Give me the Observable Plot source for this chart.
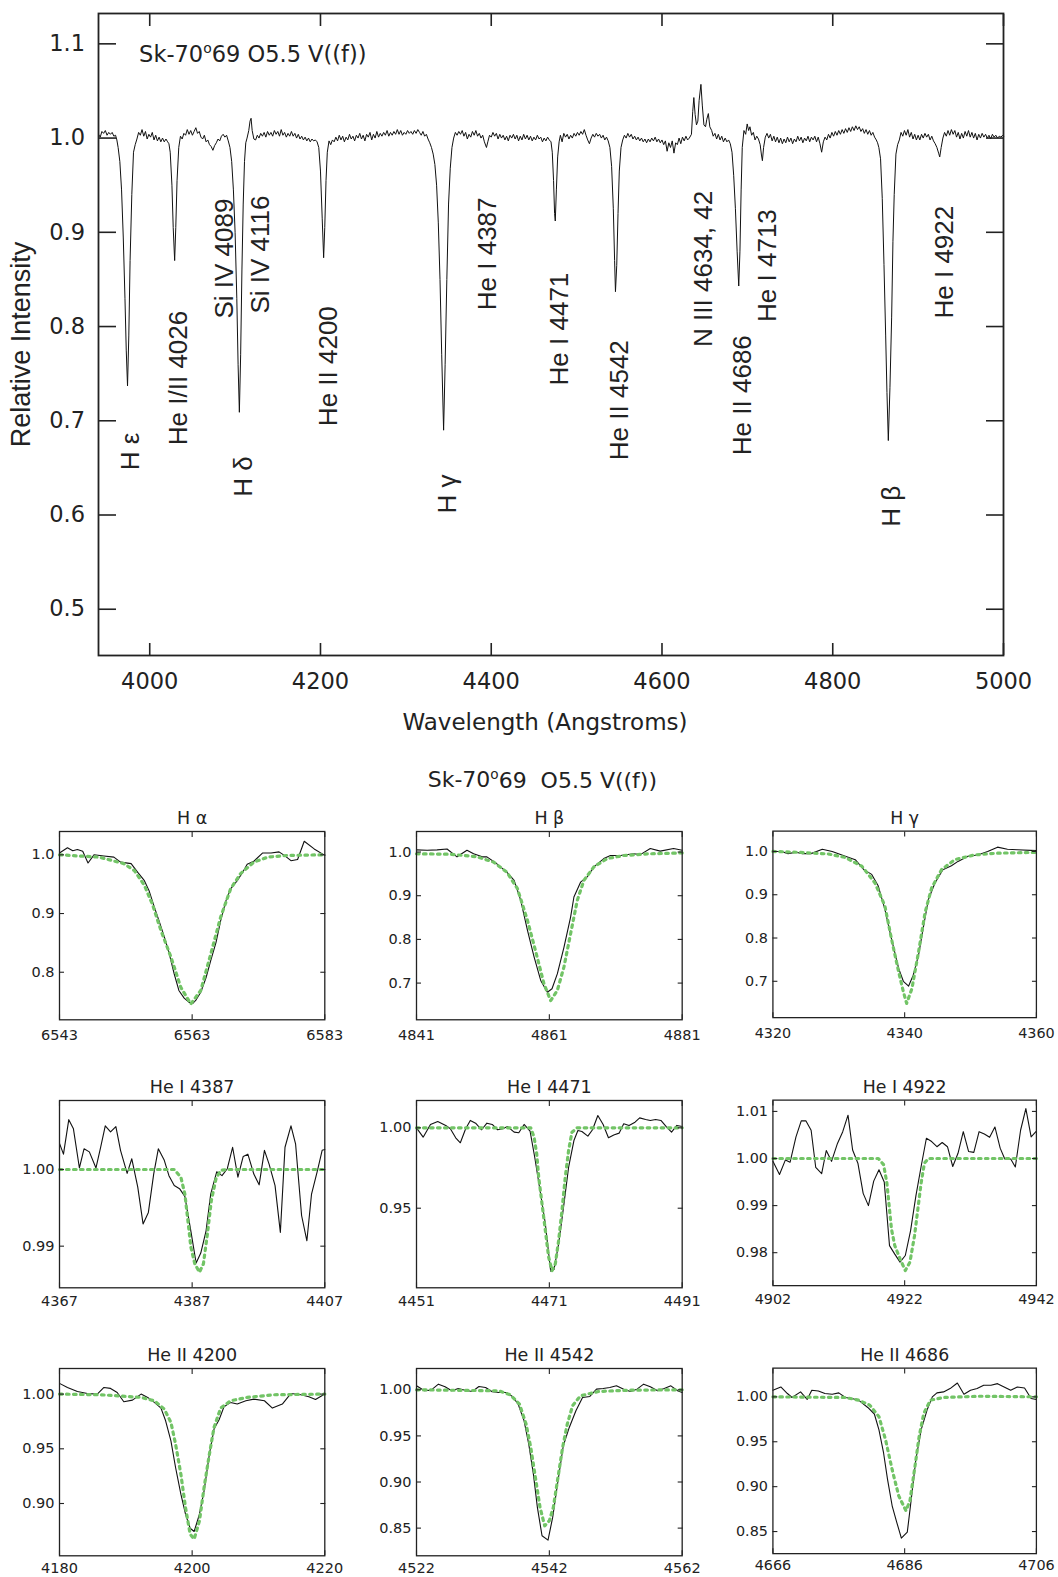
<!DOCTYPE html>
<html><head><meta charset="utf-8">
<script src="https://cdn.jsdelivr.net/npm/d3@7"></script>
<script src="https://cdn.jsdelivr.net/npm/@observablehq/plot@0.6"></script>
<style>
body{margin:0;background:#fff;}
#root{position:relative;width:1058px;height:1577px;overflow:hidden;background:#fff;}
.pos{position:absolute;}
</style></head><body><div id="root"></div>
<script>
// ---------------- DATA ----------------
const mainTitle = "Sk-70°69 O5.5 V((f))";
const gridTitle = "Sk-70°69\u00a0 O5.5 V((f))";
const mainXTicks = [4000, 4200, 4400, 4600, 4800, 5000];
const mainYTicks = [0.5, 0.6, 0.7, 0.8, 0.9, 1.0, 1.1];

// [wavelength (A), relative intensity]
const spectrum = [
[3940,1.004],[3942,1.001],[3944,1.007],[3946,1.005],[3948,1.008],[3950,1.003],[3952,1.006],[3954,1.004],[3956,1.006],[3958,1.002],[3960,1.003],
[3961.5,0.998],[3963,0.990],[3965,0.975],[3967,0.945],[3969,0.895],[3971,0.830],[3972.5,0.775],[3974,0.737],[3975.5,0.790],[3977,0.870],[3979,0.940],[3981,0.985],[3983,0.993],[3985,0.999],
[3987,1.006],[3989,1.003],[3991,1.009],[3993,1.002],[3995,1.007],[3997,0.999],[3999,1.004],[4001,1.001],[4003,1.006],[4005,0.998],[4007,1.003],[4009,0.997],[4011,1.001],[4013,0.996],[4015,1.000],[4017,0.996],[4019,0.999],[4021,0.996],[4022.5,0.994],
[4024,0.985],[4026,0.950],[4027.5,0.905],[4029.2,0.870],[4030.5,0.905],[4032,0.955],[4034,0.990],[4036,1.002],
[4038,0.999],[4040,1.005],[4042,1.003],[4044,1.009],[4046,1.004],[4048,1.008],[4050,1.003],[4052,1.007],[4054,1.011],[4056,1.005],[4058,1.007],[4060,1.001],[4062,0.999],[4064,1.003],[4066,0.996],[4068,0.998],[4070,0.993],[4072,0.991],[4074,0.987],[4076,0.992],[4078,0.995],[4080,0.999],[4082,0.997],[4084,1.002],[4086,1.004],[4088,1.001],[4090,1.003],[4092,0.997],
[4094,0.990],[4096,0.975],[4098,0.945],[4100,0.900],[4102,0.830],[4103.5,0.760],[4105,0.709],[4106.5,0.770],[4108,0.860],[4109.5,0.930],[4111,0.975],[4112.5,0.995],
[4114,1.000],[4116,1.008],[4117.5,1.018],[4118.7,1.021],[4120,1.008],[4122,0.999],[4124,0.998],
[4126,1.003],[4128,1.000],[4130,1.005],[4132,1.002],[4134,1.006],[4136,1.001],[4138,1.007],[4140,1.003],[4142,1.006],[4144,1.002],[4146,1.008],[4148,1.004],[4150,1.007],[4152,1.002],[4154,1.009],[4156,1.003],[4158,1.006],[4160,1.001],[4162,1.005],[4164,1.002],[4166,1.007],[4168,1.002],[4170,1.005],[4172,1.000],[4174,1.004],[4176,0.999],[4178,1.002],[4180,0.998],[4182,1.001],[4184,0.997],[4186,1.000],[4188,0.996],[4190,0.999],[4192,0.997],[4194,0.998],
[4196,0.996],[4198,0.990],[4200,0.965],[4202,0.915],[4203.7,0.873],[4205,0.905],[4206.5,0.955],[4208,0.985],[4210,0.997],
[4212,0.993],[4214,0.998],[4216,0.996],[4218,1.001],[4220,0.997],[4222,1.003],[4224,0.998],[4226,1.002],[4228,0.996],[4230,1.001],[4232,0.998],[4234,1.004],[4236,0.999],[4238,1.002],[4240,0.997],[4242,1.003],[4244,1.000],[4246,1.005],[4248,0.999],[4250,1.003],[4252,0.997],[4254,1.004],[4256,1.001],[4258,1.006],[4260,0.998],[4262,1.004],[4264,1.000],[4266,1.007],[4268,1.001],[4270,1.005],[4272,1.002],[4274,1.006],[4276,1.003],[4278,1.008],[4280,1.002],[4282,1.006],[4284,1.003],[4286,1.007],[4288,1.004],[4290,1.009],[4292,1.004],[4294,1.008],[4296,1.003],[4298,1.006],[4300,1.004],[4302,1.008],[4304,1.005],[4306,1.007],[4308,1.004],[4310,1.008],[4312,1.005],[4314,1.009],[4316,1.006],[4318,1.003],[4320,1.007],[4322,1.002],[4324,1.004],[4326,0.999],
[4328,0.995],[4330,0.990],[4332,0.983],[4334,0.972],[4336,0.950],[4338,0.910],[4340,0.850],[4342,0.770],[4344.2,0.690],[4346,0.760],[4348,0.850],[4350,0.930],[4352,0.968],[4354,0.990],[4356,1.000],
[4358,1.006],[4360,1.003],[4362,1.007],[4364,1.004],[4366,1.008],[4368,1.002],[4370,1.006],[4372,0.999],[4374,1.004],[4376,1.001],[4378,1.007],[4380,1.003],[4382,1.008],[4384,1.002],[4386,1.005],[4388,1.000],[4390,1.003],[4392,0.996],[4394.4,0.990],[4396,0.996],[4398,1.003],[4400,1.001],[4402,1.006],[4404,1.002],[4406,1.005],[4408,0.999],[4410,1.004],[4412,1.000],[4414,1.003],[4416,0.998],[4418,1.002],[4420,0.997],[4422,1.003],[4424,1.000],[4426,1.004],[4428,0.999],[4430,1.003],[4432,0.997],[4434,1.002],[4436,0.998],[4438,1.004],[4440,0.999],[4442,1.003],[4444,0.998],[4446,1.002],[4448,0.997],[4450,1.001],[4452,0.998],[4454,1.003],[4456,0.999],[4458,1.001],[4460,0.996],[4462,1.000],[4464,0.997],[4466,1.001],[4468,0.998],
[4470,0.996],[4471.5,0.985],[4473,0.955],[4474.2,0.920],[4475,0.912],[4476.3,0.945],[4477.8,0.980],[4479.5,0.996],
[4481,1.003],[4483,0.996],[4485,1.005],[4487,1.001],[4489,1.004],[4491,0.999],[4493,1.003],[4495,1.000],[4497,1.005],[4499,1.002],[4501,1.006],[4503,1.003],[4505,1.007],[4507,1.004],[4509,1.009],[4511,1.003],[4513,0.998],[4515,0.994],[4517,1.000],[4519,1.004],[4521,1.001],[4523,1.005],[4525,1.002],[4527,1.004],[4529,1.000],[4531,1.003],[4533,0.998],[4535,1.001],[4537,0.997],
[4539,0.990],[4541,0.970],[4543,0.925],[4544.5,0.870],[4545.5,0.837],[4547,0.865],[4548.5,0.920],[4550,0.965],[4552,0.990],[4554,0.998],
[4556,1.003],[4558,1.000],[4560,1.005],[4562,1.001],[4564,1.004],[4566,0.999],[4568,1.002],[4570,0.998],[4572,1.001],[4574,0.997],[4576,1.000],[4578,0.996],[4580,0.999],[4582,0.995],[4584,0.999],[4586,0.996],[4588,1.000],[4590,0.997],[4592,1.001],[4594,0.996],[4596,0.999],[4598,0.995],[4600,0.998],[4602,0.993],[4604,0.997],[4606,0.986],[4608,0.995],[4610,0.990],[4612,0.997],[4614,0.984],[4616,0.995],[4618,0.993],[4620,1.000],[4622,0.994],[4624,1.001],[4626,0.997],[4628,1.002],[4630,0.998],
[4632,1.000],[4634.5,1.004],[4636,1.028],[4637.3,1.043],[4638.8,1.025],[4640.4,1.014],[4642,1.018],[4643.5,1.040],[4645.6,1.057],[4647.2,1.035],[4649.1,1.014],[4651,1.012],[4652.5,1.020],[4654.3,1.026],[4656,1.012],[4658.2,1.008],[4660,1.002],
[4662,1.005],[4664,0.999],[4666,1.004],[4668,0.998],[4670,1.002],[4672,0.996],[4674,1.000],[4676,0.996],[4678,0.998],[4680,0.994],
[4682,0.985],[4684,0.960],[4686,0.925],[4688,0.880],[4689.9,0.843],[4691.3,0.880],[4692.7,0.945],[4694,0.990],[4696,1.008],[4698,1.004],[4699.8,1.015],[4701.5,1.008],[4703,1.012],[4705,1.003],[4707,1.006],[4709,0.998],[4711,1.002],[4713,0.999],
[4715,0.993],[4716.5,0.982],[4717.6,0.976],[4719,0.990],[4721,1.001],
[4723,1.005],[4725,1.000],[4727,1.004],[4729,0.997],[4731,1.002],[4733,0.996],[4735,1.001],[4737,0.995],[4739,1.000],[4741,0.994],[4743,0.999],[4745,0.995],[4747,1.001],[4749,0.996],[4751,1.000],[4753,0.994],[4755,0.999],[4757,0.996],[4759,1.002],[4761,0.997],[4763,1.001],[4765,0.995],[4767,1.000],[4769,0.997],[4771,1.002],[4773,0.996],[4775,1.001],[4777,0.998],[4779,1.002],[4781,0.996],[4783,1.001],[4785,0.994],[4787,0.985],[4789,0.996],[4791,1.001],[4793,0.998],[4795,1.004],[4797,1.000],[4799,1.006],[4801,1.002],[4803,1.007],[4805,1.003],[4807,1.008],[4809,1.004],[4811,1.009],[4813,1.005],[4815,1.010],[4817,1.006],[4819,1.011],[4821,1.007],[4823,1.012],[4825,1.008],[4827,1.013],[4829,1.009],[4831,1.012],[4833,1.007],[4835,1.010],[4837,1.005],[4839,1.009],[4841,1.004],[4843,1.008],[4845,1.003],[4847,1.006],[4849,1.001],
[4851,0.998],[4852.5,0.995],[4854,0.990],[4856,0.978],[4858,0.936],[4860,0.866],[4862,0.790],[4863.5,0.730],[4865.1,0.679],[4867,0.735],[4869,0.810],[4870.5,0.890],[4872,0.940],[4874,0.983],[4876,0.993],[4878,0.998],
[4880,1.006],[4882,1.002],[4884,1.008],[4886,1.003],[4888,1.009],[4890,1.001],[4892,1.006],[4894,0.999],[4896,1.004],[4898,0.998],[4900,1.003],[4902,0.998],[4904,1.004],[4906,1.000],[4908,1.005],[4910,1.001],[4912,1.004],[4914,0.998],[4916,1.002],[4918,0.997],[4920,0.994],[4922,0.990],[4924,0.984],[4925.3,0.980],[4927,0.990],[4929,1.000],[4931,1.006],[4933,1.002],[4935,1.008],[4937,1.003],[4939,1.009],[4941,1.004],[4943,1.008],[4945,1.001],[4947,1.006],[4949,0.999],[4951,1.005],[4953,1.000],[4955,1.007],[4957,1.002],[4959,1.008],[4961,1.001],[4963,1.006],[4965,1.000],[4967,1.005],[4969,0.998],[4971,1.004],[4973,1.000],[4975,1.005],[4977,1.001],[4979,1.004],[4981,1.000],[4983,1.003],[4985,0.999],[4987,1.004],[4989,1.001],[4991,1.003],[4993,1.000],[4995,1.002],[4997,1.001],[4999,1.003],[5000,1.002]
];

const lineNames  = ["H ε","He I/II 4026","Si IV 4089","Si IV 4116","H δ","He II 4200","H γ","He I 4387","He I 4471","He II 4542","N III 4634, 42","He II 4686","He I 4713","He I 4922","H β"];
const lineLabelX = [3978, 4033.8, 4087.8, 4130.3, 4110.6, 4209.5, 4349.1, 4395.4, 4480.5, 4550.4, 4648.3, 4694.8, 4723.5, 4931.2, 4868.9];
const lineLabelY = [0.6476, 0.6741, 0.8085, 0.8138, 0.6193, 0.6943, 0.6017, 0.8173, 0.7375, 0.6582, 0.7784, 0.6635, 0.8049, 0.8085, 0.5875];

// ---- line-profile panels: observed [A, flux] and model [A, flux] ----
const haObs = [[6543,1.003],[6544.2,1.012],[6545,1.007],[6545.7,1.009],[6546.5,1.006],[6547.3,0.986],[6548.2,1.0],[6549.7,0.998],[6551.2,0.996],[6552.2,0.9875],[6553.8,0.985],[6554.8,0.970],[6555.8,0.956],[6556.5,0.939],[6557.3,0.911],[6558,0.888],[6558.8,0.860],[6559.5,0.834],[6560.3,0.797],[6561,0.769],[6561.8,0.756],[6562.5,0.749],[6563.1,0.747],[6563.6,0.753],[6564.3,0.766],[6565.1,0.791],[6565.8,0.820],[6566.6,0.851],[6567.3,0.888],[6568.1,0.922],[6568.8,0.942],[6569.8,0.956],[6570.6,0.970],[6571.3,0.984],[6572.3,0.989],[6573.6,1.003],[6574.9,1.003],[6576.1,1.005],[6576.9,0.999],[6577.9,0.990],[6578.9,0.992],[6579.9,1.023],[6581.4,1.010],[6583,0.999]];
const haModel = [[6543,1.0],[6546,0.998],[6549,0.996],[6552.7,0.985],[6554.3,0.973],[6555.8,0.948],[6557,0.916],[6558.3,0.871],[6559.8,0.826],[6561.3,0.774],[6562.8,0.746],[6564.3,0.769],[6565.8,0.831],[6567.3,0.894],[6568.8,0.942],[6570.3,0.968],[6572.3,0.9875],[6574.4,0.996],[6577.4,0.999],[6583,1.0]];

const hbObs = [[4841,1.005],[4842.6,1.004],[4844.1,1.005],[4845.6,1.007],[4847.1,0.989],[4848.6,1.004],[4849.6,0.996],[4850.9,0.989],[4851.6,0.989],[4853.1,0.973],[4854.6,0.954],[4855.7,0.935],[4856.7,0.889],[4857.7,0.821],[4858.7,0.760],[4859.7,0.706],[4860.7,0.679],[4861.4,0.687],[4862.2,0.721],[4863.2,0.782],[4864.2,0.851],[4864.7,0.897],[4865.7,0.931],[4866.7,0.943],[4867.7,0.966],[4869.2,0.985],[4870.2,0.992],[4871.7,0.992],[4873.7,0.996],[4874.7,0.994],[4876.2,1.008],[4877.7,1.002],[4879.7,1.008],[4881,1.004]];
const hbModel = [[4841,0.996],[4846.1,0.995],[4850.1,0.989],[4852.6,0.977],[4854.6,0.954],[4856.2,0.916],[4857.7,0.844],[4858.9,0.775],[4860.2,0.698],[4861.2,0.660],[4862.2,0.683],[4863.2,0.737],[4864.2,0.813],[4865.2,0.889],[4866.2,0.935],[4867.7,0.966],[4869.7,0.985],[4872.2,0.992],[4876.2,0.996],[4881,0.998]];

const hgObs = [[4320,1.0],[4321.3,1.0],[4322.3,0.995],[4323.5,0.998],[4324.5,0.995],[4325.8,0.995],[4327.5,1.005],[4329,1.0],[4331,0.989],[4332.5,0.981],[4333.8,0.958],[4335,0.947],[4336,0.920],[4337,0.866],[4338,0.798],[4339.1,0.729],[4339.8,0.700],[4340.6,0.689],[4341.3,0.714],[4342.1,0.760],[4342.8,0.821],[4343.6,0.889],[4344.6,0.927],[4345.8,0.958],[4347.1,0.967],[4348.1,0.977],[4349.6,0.989],[4351.1,0.992],[4352.6,1.0],[4354.1,1.010],[4355.6,1.005],[4357.1,1.004],[4360,1.002]];
const hgModel = [[4320,1.0],[4324,0.998],[4328.5,0.994],[4331,0.986],[4333.5,0.966],[4335.5,0.927],[4337,0.874],[4338,0.798],[4339.1,0.721],[4339.8,0.676],[4340.3,0.649],[4341.1,0.683],[4342.1,0.767],[4343.1,0.859],[4344.1,0.916],[4345.6,0.958],[4347.6,0.981],[4350.6,0.992],[4354.1,0.996],[4360,0.998]];

const he4387Obs = [[4367,1.0034],[4367.6,1.002],[4368.4,1.0065],[4369.1,1.0053],[4370,1.0002],[4370.7,1.0027],[4371.5,1.0023],[4372.5,1.0002],[4373.2,1.0029],[4373.9,1.0057],[4374.7,1.0049],[4375.5,1.0056],[4376.2,1.0025],[4377.2,0.9995],[4377.9,1.0014],[4378.8,0.9977],[4379.6,0.9929],[4380.4,0.9944],[4381.2,0.9994],[4381.9,1.0027],[4382.8,1.0012],[4383.5,0.9992],[4384.3,0.9979],[4385.1,0.9975],[4385.9,0.9965],[4386.8,0.9920],[4387.6,0.9878],[4388.3,0.9891],[4389.1,0.9920],[4389.8,0.9968],[4390.7,0.9997],[4391.5,0.9992],[4392.3,1.0001],[4393.1,1.0029],[4393.9,0.999],[4394.7,1.0017],[4395.4,1.002],[4396.3,0.9994],[4397.1,0.998],[4397.9,1.0025],[4398.6,1.0007],[4399.5,0.9979],[4400.3,0.9918],[4401,1.0029],[4401.9,1.0057],[4402.6,1.0033],[4403.5,0.994],[4404.3,0.9907],[4405,0.9968],[4405.9,0.9999],[4406.6,1.0025],[4407,1.0026]];
const he4387Model = [[4367,1.0],[4384.3,1.0],[4385.3,0.999],[4385.9,0.9968],[4386.3,0.9938],[4386.8,0.9899],[4387.4,0.9877],[4388.1,0.9866],[4388.7,0.9877],[4389.3,0.9916],[4389.9,0.996],[4390.6,0.9988],[4391.3,0.9999],[4392.3,1.0],[4407,1.0]];

const he4471Obs = [[4451,1.0],[4452,0.9942],[4453.1,1.0021],[4454.2,1.0039],[4455.4,1.0015],[4456.1,0.9994],[4456.9,0.9938],[4457.6,0.9907],[4458.4,0.9994],[4459.1,1.0046],[4459.9,1.0029],[4460.8,0.9988],[4461.6,1.0029],[4462.4,1.0021],[4463.2,0.9988],[4464,0.9994],[4464.7,1.0008],[4465.7,0.9973],[4466.4,0.9969],[4467.2,1.0021],[4468.1,0.9979],[4468.8,0.9817],[4469.6,0.961],[4470.4,0.9402],[4471.2,0.9108],[4471.7,0.9118],[4472.4,0.9278],[4473.2,0.9527],[4473.9,0.9755],[4474.7,0.9921],[4475.3,0.9983],[4475.9,0.9977],[4476.8,0.9948],[4477.5,0.9988],[4478.3,1.0077],[4479.1,1.0021],[4479.9,0.9938],[4480.7,0.9956],[4481.5,0.9967],[4482.2,1.0025],[4483,1.0015],[4483.9,1.0035],[4484.6,1.0062],[4485.5,1.0052],[4486.2,1.0046],[4487,1.0052],[4487.8,1.0046],[4488.6,1.0008],[4489.4,0.9973],[4490.2,1.0015],[4491,1.0008]];
const he4471Model = [[4451,1.0],[4468.2,1.0],[4468.7,0.9942],[4469.1,0.9838],[4469.4,0.9693],[4469.9,0.9527],[4470.4,0.9361],[4470.9,0.9195],[4471.4,0.9112],[4471.9,0.9154],[4472.4,0.9299],[4472.9,0.9485],[4473.4,0.9693],[4473.9,0.9859],[4474.4,0.9973],[4475.2,1.0],[4491,1.0]];

const he4922Obs = [[4902,0.9994],[4903,0.9966],[4903.9,0.9997],[4904.6,0.9992],[4905.5,1.0046],[4906.3,1.008],[4907,1.008],[4907.8,1.006],[4908.5,0.9981],[4909.4,0.9968],[4910.1,1.0017],[4910.9,0.9994],[4911.8,1.0032],[4912.6,1.0057],[4913.4,1.0092],[4914.1,1.0018],[4914.9,0.999],[4915.7,0.9926],[4916.5,0.99],[4917.3,0.9952],[4918.1,0.9976],[4918.9,0.995],[4919.7,0.9815],[4920.5,0.9797],[4921.3,0.978],[4922.1,0.9794],[4922.9,0.9847],[4923.7,0.992],[4924.5,0.9983],[4925.3,1.0043],[4926.1,1.0036],[4926.9,1.0025],[4927.7,1.0034],[4928.5,1.0025],[4929.3,0.9983],[4930.1,1.0011],[4930.9,1.0057],[4931.7,1.0015],[4932.5,1.0013],[4933.3,1.0057],[4934.1,1.0052],[4934.9,1.0045],[4935.7,1.0067],[4936.5,1.0022],[4937.2,0.9999],[4938.1,0.9999],[4938.8,0.9982],[4939.6,1.006],[4940.4,1.0106],[4941.2,1.0046],[4942,1.0058]];
const he4922Model = [[4902,1.0],[4918,1.0],[4918.8,0.9987],[4919.3,0.9948],[4919.6,0.9906],[4920,0.985],[4920.5,0.9815],[4921.3,0.9787],[4922.1,0.9762],[4922.8,0.978],[4923.5,0.9836],[4924,0.9892],[4924.5,0.9948],[4925,0.999],[4925.6,1.0],[4942,1.0]];

const heII4200Obs = [[4180,1.0098],[4181.2,1.0061],[4182.7,1.0024],[4184.2,1.0006],[4185.7,1.0],[4186.7,1.0061],[4187.7,1.0052],[4188.7,1.0015],[4189.7,0.993],[4191,0.9945],[4192.3,1.0],[4193.3,0.997],[4194.3,0.9924],[4195.3,0.9872],[4196,0.9756],[4196.8,0.9573],[4197.5,0.9329],[4198.3,0.9085],[4199,0.8902],[4199.7,0.8774],[4200.3,0.8744],[4201.1,0.8902],[4201.8,0.9116],[4202.6,0.9451],[4203.3,0.968],[4204.1,0.9771],[4204.8,0.9884],[4205.8,0.9924],[4206.8,0.9909],[4208.1,0.9939],[4209.3,0.9954],[4210.9,0.9939],[4212.1,0.9872],[4213.6,0.9909],[4214.9,1.0006],[4216.4,0.9994],[4217.6,0.9976],[4218.6,0.9951],[4220,1.0]];
const heII4200Model = [[4180,1.0],[4186.2,0.9994],[4192.3,0.997],[4194.3,0.9939],[4195.8,0.9863],[4196.8,0.9741],[4197.5,0.9543],[4198.3,0.9268],[4199,0.8963],[4199.7,0.872],[4200.3,0.8674],[4201.1,0.8841],[4201.8,0.9146],[4202.6,0.9451],[4203.3,0.9695],[4204.3,0.9872],[4205.8,0.9939],[4208.3,0.997],[4212.4,0.9994],[4220,1.0]];

const heII4542Obs = [[4522,1.0043],[4523.2,0.9989],[4524.2,0.9996],[4525.3,1.0061],[4526.3,1.0033],[4527.3,0.9989],[4528.3,1.0014],[4529.3,0.9996],[4530.4,0.9982],[4531.4,1.0036],[4532.4,1.0025],[4533.4,0.9978],[4534.4,0.9971],[4535.5,0.9971],[4536.5,0.9924],[4537.3,0.9845],[4538.2,0.9664],[4538.9,0.9411],[4539.6,0.9086],[4540.2,0.8724],[4540.9,0.8417],[4541.8,0.837],[4542.5,0.8616],[4543.3,0.9013],[4544.1,0.9393],[4545,0.9592],[4546,0.9772],[4547,0.9917],[4548.1,0.9928],[4549.1,1.0007],[4550.1,1.0014],[4551.1,1.0025],[4552.1,1.0043],[4553.2,1.0007],[4554.2,0.9982],[4555.2,1.0007],[4556.2,1.0061],[4557.2,1.0033],[4558.3,0.9989],[4559.3,1.0014],[4560.3,1.0043],[4561.3,0.9989],[4562,0.9971]];
const heII4542Model = [[4522,1.0],[4534.4,0.9989],[4536.1,0.9946],[4537.5,0.9845],[4538.5,0.9628],[4539.2,0.9375],[4539.9,0.905],[4540.6,0.8724],[4541.3,0.8525],[4542,0.858],[4542.6,0.8724],[4543.3,0.905],[4544,0.9375],[4544.7,0.9628],[4545.5,0.9827],[4546.7,0.9935],[4549.4,0.9982],[4554.2,0.9996],[4562,1.0]];

const heII4686Obs = [[4666,1.0074],[4667.2,1.011],[4668.2,1.0037],[4668.9,0.9993],[4670.2,1.0055],[4671.2,0.9971],[4671.9,1.0074],[4672.9,1.0066],[4673.9,1.0037],[4675,1.0029],[4676,1.0044],[4677,0.9993],[4678,0.9982],[4679,0.9963],[4680.4,0.9882],[4681.4,0.9809],[4682.1,0.9632],[4682.8,0.9375],[4683.4,0.9081],[4684.1,0.8787],[4684.8,0.8603],[4685.5,0.8426],[4686.4,0.8493],[4687,0.886],[4687.7,0.9301],[4688.5,0.9632],[4689.4,0.9853],[4690.2,1.0],[4690.9,1.0044],[4691.9,1.0055],[4692.9,1.0092],[4694,1.0154],[4695,1.0029],[4696,1.0074],[4697,1.0092],[4698,1.0129],[4699.1,1.0129],[4700.1,1.0147],[4701.1,1.011],[4702.1,1.0074],[4703.1,1.011],[4704.2,1.0099],[4705.2,0.9982],[4706,0.9971]];
const heII4686Model = [[4666,1.0],[4677,0.9993],[4679,0.9963],[4680.7,0.9908],[4682.1,0.9779],[4683.1,0.9522],[4684.1,0.9191],[4685.1,0.8897],[4686.2,0.8732],[4686.8,0.8842],[4687.5,0.9191],[4688.2,0.9559],[4688.9,0.9816],[4689.9,0.9963],[4691.9,0.9993],[4697.4,1.0007],[4706,1.0]];

const panelTitles = ["H α","H β","H γ","He I 4387","He I 4471","He I 4922","He II 4200","He II 4542","He II 4686"];
const panelXTicks = [[6543,6563,6583],[4841,4861,4881],[4320,4340,4360],[4367,4387,4407],[4451,4471,4491],[4902,4922,4942],[4180,4200,4220],[4522,4542,4562],[4666,4686,4706]];
const panelYTicks = [[0.8,0.9,1.0],[0.7,0.8,0.9,1.0],[0.7,0.8,0.9,1.0],[0.99,1.00],[0.95,1.00],[0.98,0.99,1.00,1.01],[0.90,0.95,1.00],[0.85,0.90,0.95,1.00],[0.85,0.90,0.95,1.00]];
const panelYDomains = [[0.719,1.0397],[0.616,1.047],[0.616,1.047],[0.98457,1.009],[0.9005,1.017],[0.973,1.0124],[0.8522,1.0234],[0.82,1.0231],[0.8254,1.032]];
const panelObs = [haObs,hbObs,hgObs,he4387Obs,he4471Obs,he4922Obs,heII4200Obs,heII4542Obs,heII4686Obs];
const panelModel = [haModel,hbModel,hgModel,he4387Model,he4471Model,he4922Model,heII4200Model,heII4542Model,heII4686Model];

// ---------------- RENDER ----------------
const root = document.getElementById("root");
const FONT = "'DejaVu Sans', 'Liberation Sans', sans-serif";
const FONT2 = "'Liberation Sans', Arial, sans-serif";
const INK = "#222";
const GREEN = "#72c466";

function place(node, left, top) {
  const w = document.createElement("div");
  w.className = "pos";
  w.style.left = left + "px";
  w.style.top = top + "px";
  w.appendChild(node);
  root.appendChild(w);
}
function superO(svg) {
  d3.select(svg).selectAll("text").each(function () {
    const t = this.textContent;
    if (!t.includes("°")) return;
    const [a, b] = t.split("°");
    const s = d3.select(this);
    s.text(null);
    s.append("tspan").text(a);
    s.append("tspan").attr("font-size", "0.62em").attr("dy", "-0.62em").text("o");
    s.append("tspan").attr("dy", "0.385em").text(b);
  });
}
const X = d => d[0], Y = d => d[1];

// Main spectrum
const labels = lineNames.map((t, i) => ({t, x: lineLabelX[i], y: lineLabelY[i]}));
const main = Plot.plot({
  width: 1058, height: 745,
  marginLeft: 98, marginRight: 55, marginTop: 13, marginBottom: 90,
  x: {domain: [3940, 5000]},
  y: {domain: [0.4509, 1.1322]},
  style: {fontFamily: FONT, color: INK, background: "transparent", overflow: "visible"},
  marks: [
    Plot.line(spectrum, {x: X, y: Y, stroke: "#111", strokeWidth: 1}),
    Plot.frame({stroke: INK, strokeWidth: 1.8}),
    Plot.axisY(mainYTicks, {anchor: "left", tickSize: 0, tickPadding: 13.5, fontSize: 22.5, tickFormat: d3.format(".1f"), label: null}),
    Plot.axisY(mainYTicks, {anchor: "left", tickSize: -18, strokeWidth: 1.6, fill: "none", label: null}),
    Plot.axisY(mainYTicks, {anchor: "right", tickSize: -18, strokeWidth: 1.6, fill: "none", label: null}),
    Plot.axisX(mainXTicks, {anchor: "bottom", tickSize: 0, tickPadding: 18, fontSize: 22.5, tickFormat: d3.format("d"), label: null}),
    Plot.axisX(mainXTicks, {anchor: "bottom", tickSize: -12, strokeWidth: 1.6, fill: "none", label: null}),
    Plot.axisX(mainXTicks, {anchor: "top", tickSize: -12, strokeWidth: 1.6, fill: "none", label: null}),
    Plot.text(labels, {x: "x", y: "y", text: "t", rotate: -90, textAnchor: "start", lineAnchor: "middle", fontSize: 26, fontFamily: FONT2, fill: INK}),
    Plot.text([mainTitle], {frameAnchor: "top-left", dx: 40.6, dy: 48, text: d => d, textAnchor: "start", lineAnchor: "bottom", fontSize: 22.5, fill: INK}),
    Plot.text(["Wavelength (Angstroms)"], {frameAnchor: "bottom", dx: -6, dy: 74, text: d => d, textAnchor: "middle", lineAnchor: "bottom", fontSize: 23, fill: INK}),
    Plot.text(["Relative Intensity"], {frameAnchor: "left", dx: -77, dy: 10, rotate: -90, text: d => d, textAnchor: "middle", lineAnchor: "middle", fontSize: 27, fontFamily: FONT2, fill: INK})
  ]
});
superO(main);
place(main, 0, 0);

// Grid of line profiles
const colL = [58.7, 416, 773.3], colW = [265.3, 265.7, 266];
const rowT = [831, 1100, 1367.7], rowH = [188.3, 187.3, 187.3];
const xPad = [10, 8, 6.5];

panelTitles.forEach((title, k) => {
  const col = k % 3, row = Math.floor(k / 3);
  const withSup = k === 1;
  const ml = 62, mr = 22, mb = 24, mt = withSup ? 72 : 40;
  const fw = colW[col], fh = rowH[row];
  const xt = panelXTicks[k], yt = panelYTicks[k];
  const fmt = row === 0 ? d3.format(".1f") : d3.format(".2f");
  const svg = Plot.plot({
    width: ml + fw + mr, height: mt + fh + mb,
    marginLeft: ml, marginRight: mr, marginTop: mt, marginBottom: mb,
    x: {domain: [xt[0], xt[xt.length - 1]]},
    y: {domain: panelYDomains[k]},
    style: {fontFamily: FONT, color: INK, background: "transparent", overflow: "visible"},
    marks: [
      Plot.line(panelObs[k], {x: X, y: Y, stroke: "#111", strokeWidth: 1.1}),
      Plot.line(panelModel[k], {x: X, y: Y, stroke: GREEN, strokeWidth: 3.2, strokeDasharray: "2.6 4.4"}),
      Plot.frame({stroke: INK, strokeWidth: 1.3}),
      Plot.axisY(yt, {anchor: "left", tickSize: 0, tickPadding: 5, fontSize: 14.5, tickFormat: fmt, label: null}),
      Plot.axisY(yt, {anchor: "left", tickSize: -5, strokeWidth: 1.1, fill: "none", label: null}),
      Plot.axisY(yt, {anchor: "right", tickSize: -5, strokeWidth: 1.1, fill: "none", label: null}),
      Plot.axisX(xt, {anchor: "bottom", tickSize: 0, tickPadding: xPad[row], fontSize: 14.5, tickFormat: d3.format("d"), label: null}),
      Plot.axisX(xt, {anchor: "bottom", tickSize: -5, strokeWidth: 1.1, fill: "none", label: null}),
      Plot.axisX(xt, {anchor: "top", tickSize: -5, strokeWidth: 1.1, fill: "none", label: null}),
      Plot.text([title], {frameAnchor: "top", dy: -7, text: d => d, lineAnchor: "bottom", fontSize: 17.5, fill: INK}),
      withSup ? Plot.text([gridTitle], {frameAnchor: "top", dx: -7, dy: -44, text: d => d, lineAnchor: "bottom", fontSize: 22, fill: INK}) : null
    ]
  });
  superO(svg);
  place(svg, colL[col] - ml, rowT[row] - mt);
});
</script></body></html>
